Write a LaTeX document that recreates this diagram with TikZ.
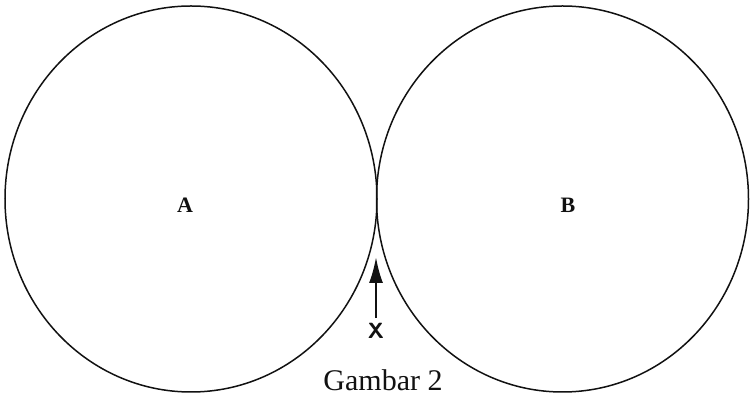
\documentclass[tikz,border=0pt]{standalone}
\usepackage{fontspec}
\setmainfont{Liberation Serif}
\usepackage{tikz}
\usetikzlibrary{arrows.meta, positioning, shapes.geometric}
\definecolor{gambarink}{HTML}{111111}

\begin{document}
\begin{tikzpicture}[x=1pt, y=1pt,
    ring/.style={draw=gambarink, ellipse, line width=1.5pt, inner sep=0pt,
      minimum width=372pt, minimum height=386pt},
    letter/.style={font=\fontsize{22}{22}\selectfont\bfseries, gambarink},
    pointer/.style={-{Latex[length=26pt, width=14pt]}, line width=2.2pt, gambarink}]
      \useasboundingbox (0,0) rectangle (753,401);
      \node[ring] (circA) at (191,202) {};
      \node[ring] (circB) at (562.5,202) {};
      \node[letter] (labA) at (185,196) {A};
      \node[letter] (labB) at (568,196) {B};
      \node[font=\fontsize{22}{22}\selectfont\bfseries\sffamily, gambarink, inner sep=2pt] (markX) at (376,70) {X};
      \coordinate (touch) at (376,144);
      \draw[pointer] ([yshift=3pt]markX.north) -- (touch);
      \node[font=\fontsize{30}{30}\selectfont, gambarink] (caption) at (383,21) {Gambar 2};
    \end{tikzpicture}
\end{document}
